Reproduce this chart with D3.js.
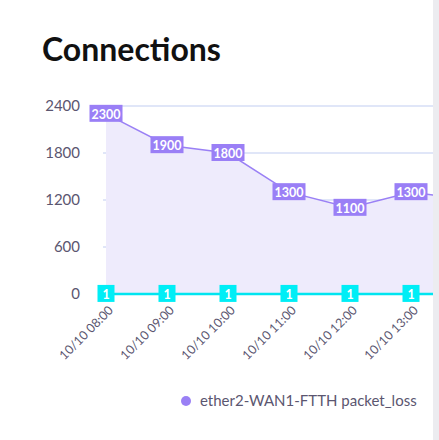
<!DOCTYPE html>
<html><head><meta charset="utf-8">
<script src="https://cdn.jsdelivr.net/npm/d3@7"></script>
<style>body{margin:0;background:#fff;font-family:Lato,sans-serif}</style>
</head><body><svg id="c" width="439" height="440"></svg>
<script>
const times = ["10/10 08:00","10/10 09:00","10/10 10:00","10/10 11:00","10/10 12:00","10/10 13:00","10/10 14:00"];
const connections = [2300,1900,1800,1300,1100,1300,1200];
const packetLoss = [1,1,1,1,1,1,1];
const yTicks = [0,600,1200,1800,2400];

const svg = d3.select("#c");
svg.append("rect").attr("x",433).attr("y",0).attr("width",6).attr("height",440).attr("fill","#ececf0");
svg.append("text").attr("x",42).attr("y",61).attr("font-size",32).attr("font-weight",700).attr("fill","#111").text("Connections");

const x = d3.scalePoint().domain(times).range([106,472]);
const y = d3.scaleLinear().domain([0,2400]).range([294,106]);

svg.append("defs").append("clipPath").attr("id","cp").append("rect").attr("x",103).attr("y",90).attr("width",330).attr("height",220);
const g = svg.append("g").attr("clip-path","url(#cp)");
g.selectAll(".grid").data(yTicks.slice(1)).enter().append("line")
  .attr("x1",103).attr("x2",433).attr("y1",d=>y(d)).attr("y2",d=>y(d))
  .attr("stroke","#e0e6f8").attr("stroke-width",2);
g.append("path").datum(connections).attr("fill","#eeebfc")
  .attr("d",d3.area().x((d,i)=>x(times[i])).y0(y(0)).y1(d=>y(d)));
g.append("path").datum(connections).attr("fill","none").attr("stroke","#9a80f5").attr("stroke-width",1.5)
  .attr("d",d3.line().x((d,i)=>x(times[i])).y(d=>y(d)));
g.append("path").datum(packetLoss).attr("fill","none").attr("stroke","#00e5f0").attr("stroke-width",2.5)
  .attr("d",d3.line().x((d,i)=>x(times[i])).y(d=>y(d)));

svg.selectAll(".yl").data(yTicks).enter().append("text")
  .attr("x",80).attr("y",d=>y(d)+5).attr("text-anchor","end").attr("font-size",15).attr("fill","#5b5670").text(d=>d);

function labels(vals, fill, w) {
  const lg = svg.append("g");
  vals.slice(0,6).forEach((v,i)=>{
    const cx = x(times[i]), cy = y(v);
    lg.append("rect").attr("x",cx-w/2).attr("y",cy-9).attr("width",w).attr("height",17).attr("fill",fill);
    lg.append("text").attr("x",cx).attr("y",cy+5).attr("text-anchor","middle").attr("font-size",12.5)
      .attr("font-weight",700).attr("fill","#fff").text(v);
  });
}
labels(connections,"#9a7ff6",33);
labels(packetLoss,"#00eef6",17);

svg.selectAll(".xl").data(times.slice(0,6)).enter().append("text")
  .attr("transform",d=>`translate(${x(d)+8},${311}) rotate(-45)`)
  .attr("text-anchor","end").attr("font-size",12.5).attr("fill","#5b5670").text(d=>d);

svg.append("circle").attr("cx",186).attr("cy",401).attr("r",5).attr("fill","#9a80f5");
svg.append("text").attr("x",200).attr("y",406).attr("font-size",15).attr("fill","#5b5670").text("ether2-WAN1-FTTH packet_loss");
</script></body></html>
